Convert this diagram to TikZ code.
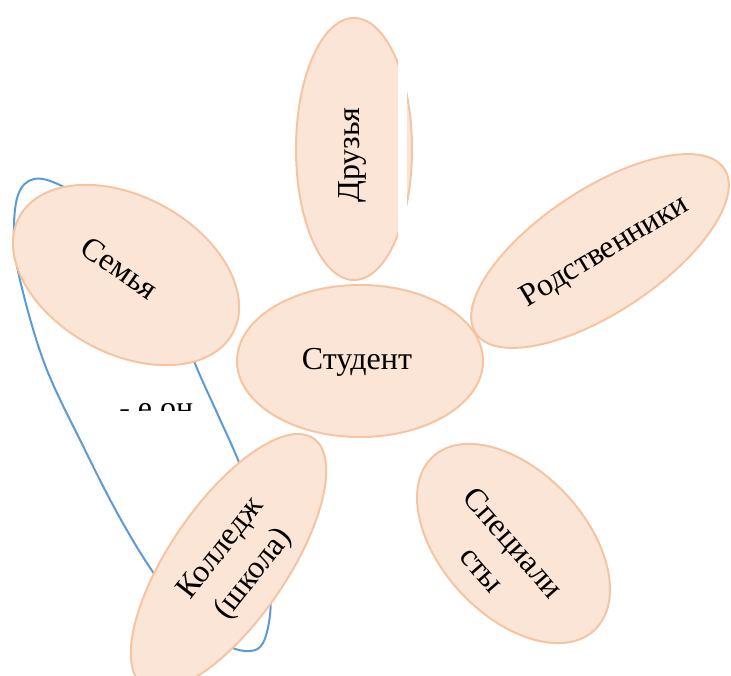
\documentclass[tikz,border=0pt]{standalone}
\usepackage{fontspec}
\setmainfont{Liberation Serif}
\usetikzlibrary{shapes.geometric}
\definecolor{petal}{HTML}{FBE5D6}
\definecolor{petalborder}{HTML}{F5C4A2}
\definecolor{loopblue}{HTML}{5B9BD5}
\begin{document}
\begin{tikzpicture}[x=0.75pt,y=-0.75pt,
  petalnode/.style={ellipse, draw=petalborder, fill=petal, line width=1.5pt, inner sep=0pt},
  lbl/.style={font=\fontsize{24}{31}\selectfont, align=center, inner sep=0pt},
  loopline/.style={draw=loopblue, line width=1.5pt}]
\useasboundingbox (0,0) rectangle (731,675);
% blue loop (behind the petals)
\draw[loopline] plot[smooth cycle, tension=0.6] coordinates {
  (62,186) (34,179) (18,195) (14,235) (20,280) (45,365)
  (85,450) (120,518) (155,575) (195,625) (228,646) (250,651) (263,643)
  (270,615) (269,585) (258,520) (240,465) (218,415) (196,366) (170,300) (110,215)};
% clipped text fragment
\begin{scope}
  \clip (100,396) rectangle (200,410);
  \node[lbl, anchor=base west] (frag) at (119,418) {- е он};
\end{scope}
% petals
\node[petalnode, minimum width=184.5pt, minimum height=114pt] (student) at (360,361) {};
\node[lbl] (studentt) at (357,362) {Студент};
\node[petalnode, rotate=90, minimum width=196.5pt, minimum height=87pt] (friends) at (354,149) {};
\fill[white] (398,60) rectangle (407,247);
\node[lbl, rotate=90] (friendst) at (352,155) {Друзья};
\node[petalnode, rotate=-28.6, minimum width=182.25pt, minimum height=117.75pt] (family) at (126,275) {};
\node[lbl, rotate=-35] (familyt) at (120,268) {Семья};
\node[petalnode, rotate=33.5, minimum width=223.5pt, minimum height=92.25pt] (relatives) at (600,251) {};
\node[lbl, rotate=31] (relativest) at (605,252) {Родственники};
\node[petalnode, rotate=55.5, minimum width=225pt, minimum height=87.75pt] (college) at (228.5,562) {};
\node[lbl, rotate=52] (colleget) at (238,562) {Колледж\\(школа)};
\node[petalnode, rotate=-47, minimum width=177.75pt, minimum height=108pt] (special) at (513.5,543.5) {};
\node[lbl, rotate=-49] (specialt) at (498,556) {Специали\\сты};
\end{tikzpicture}
\end{document}
